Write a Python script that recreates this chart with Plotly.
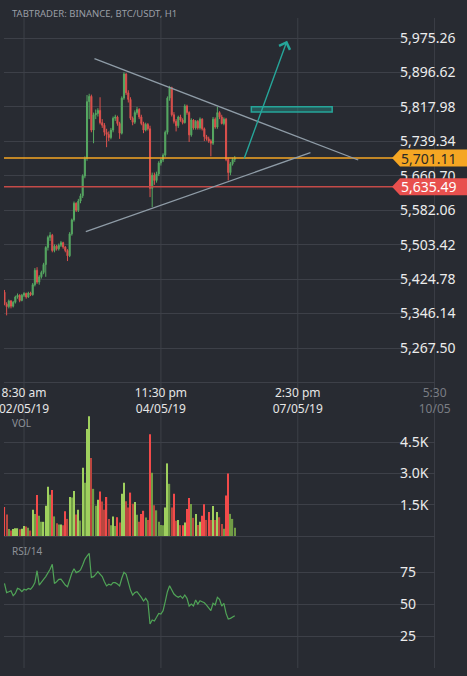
import pandas as pd
import plotly.graph_objects as go

W, H = 467, 676

# ---------------- data ----------------
candle_start = "2019-05-01 23:30"   # hourly candles (H1)
n_candles = 107
times = pd.date_range(candle_start, periods=n_candles, freq="h")

opens = [5395, 5368, 5362, 5375, 5363, 5372, 5384, 5388, 5376, 5388,
         5392, 5384, 5393, 5389, 5412, 5445, 5418, 5430, 5440, 5458,
         5497, 5520, 5525, 5490, 5500, 5494, 5502, 5508, 5498, 5490,
         5478, 5528, 5560, 5598, 5582, 5603, 5615, 5660, 5700, 5830,
         5842, 5765, 5800, 5803, 5810, 5782, 5776, 5760, 5755, 5748,
         5765, 5792, 5795, 5780, 5758, 5838, 5893, 5850, 5835, 5792,
         5783, 5805, 5812, 5795, 5780, 5765, 5778, 5768, 5632, 5662,
         5650, 5665, 5690, 5697, 5708, 5760, 5838, 5862, 5800, 5785,
         5775, 5795, 5788, 5782, 5820, 5805, 5754, 5788, 5770, 5785,
         5770, 5790, 5768, 5750, 5745, 5740, 5735, 5790, 5772, 5805,
         5795, 5780, 5790, 5698, 5668, 5688, 5698]
highs = [5400, 5372, 5378, 5377, 5375, 5387, 5392, 5390, 5391, 5395,
         5394, 5396, 5396, 5416, 5450, 5452, 5434, 5444, 5462, 5500,
         5524, 5532, 5528, 5504, 5503, 5506, 5512, 5510, 5500, 5493,
         5532, 5563, 5602, 5600, 5608, 5620, 5664, 5705, 5845, 5848,
         5846, 5805, 5812, 5815, 5840, 5790, 5781, 5768, 5762, 5770,
         5796, 5800, 5798, 5784, 5842, 5897, 5895, 5856, 5840, 5796,
         5810, 5818, 5815, 5800, 5784, 5782, 5781, 5775, 5668, 5668,
         5670, 5694, 5700, 5712, 5764, 5842, 5866, 5864, 5806, 5790,
         5798, 5800, 5792, 5824, 5823, 5808, 5792, 5790, 5788, 5788,
         5794, 5792, 5771, 5754, 5750, 5744, 5795, 5794, 5818, 5808,
         5800, 5794, 5793, 5702, 5692, 5702, 5706]
lows = [5365, 5342, 5358, 5358, 5360, 5369, 5380, 5372, 5374, 5384,
        5380, 5382, 5386, 5387, 5408, 5414, 5412, 5426, 5436, 5430,
        5490, 5512, 5486, 5486, 5490, 5490, 5498, 5494, 5486, 5466,
        5475, 5524, 5556, 5578, 5578, 5598, 5610, 5655, 5695, 5790,
        5760, 5735, 5790, 5796, 5778, 5770, 5752, 5726, 5740, 5744,
        5760, 5786, 5775, 5745, 5755, 5834, 5845, 5828, 5788, 5776,
        5779, 5800, 5790, 5776, 5758, 5762, 5764, 5612, 5589, 5640,
        5645, 5660, 5684, 5692, 5704, 5755, 5832, 5796, 5780, 5762,
        5770, 5784, 5778, 5780, 5800, 5738, 5750, 5766, 5766, 5766,
        5766, 5764, 5740, 5741, 5736, 5705, 5731, 5768, 5768, 5790,
        5778, 5776, 5694, 5650, 5662, 5684, 5692]
closes = [5368, 5362, 5375, 5363, 5372, 5384, 5388, 5376, 5388, 5392,
          5384, 5393, 5389, 5412, 5445, 5418, 5430, 5440, 5458, 5497,
          5520, 5525, 5490, 5500, 5494, 5502, 5508, 5498, 5490, 5478,
          5528, 5560, 5598, 5582, 5603, 5615, 5660, 5700, 5830, 5842,
          5765, 5800, 5803, 5810, 5782, 5776, 5760, 5755, 5748, 5765,
          5792, 5795, 5780, 5758, 5838, 5893, 5850, 5835, 5792, 5783,
          5805, 5812, 5795, 5780, 5765, 5778, 5768, 5632, 5662, 5650,
          5665, 5690, 5697, 5708, 5760, 5838, 5862, 5800, 5785, 5775,
          5795, 5788, 5782, 5820, 5805, 5754, 5788, 5770, 5785, 5770,
          5790, 5768, 5750, 5745, 5740, 5735, 5790, 5772, 5805, 5795,
          5780, 5790, 5698, 5668, 5688, 5698, 5701.11]

volumes = [1390, 1030, 340, 260, 340, 370, 370, 320, 350, 480,
           450, 400, 260, 1260, 1050, 1970, 970, 680, 680, 1450,
           2360, 1980, 2210, 940, 610, 550, 550, 520, 1190, 820,
           1870, 1840, 2160, 1030, 1260, 740, 3270, 2550, 5130, 5740,
           3740, 2260, 1450, 1740, 2130, 1650, 1260, 1870, 810, 520,
           940, 480, 900, 650, 2020, 2550, 1660, 1370, 2080, 1550,
           1630, 1020, 680, 1060, 1210, 890, 770, 4870, 3030, 1470,
           1230, 680, 530, 520, 1370, 3480, 2500, 1370, 2030, 730,
           770, 520, 520, 650, 1290, 1820, 1530, 870, 1050, 530,
           680, 970, 1520, 770, 1150, 770, 1440, 770, 1150, 900,
           580, 350, 1940, 3000, 1060, 820, 390]

rsi = [66.1, 58.9, 59.6, 60.4, 56.5, 58.3, 62.2, 61.5, 59.6, 61.5,
       60.9, 62.2, 61.5, 63.5, 66.8, 76.0, 64.8, 67.4, 69.3, 71.4,
       74.0, 77.1, 81.0, 66.1, 67.4, 69.3, 69.5, 66.7, 64.8, 63.5,
       69.3, 74.0, 77.6, 74.5, 75.3, 76.6, 80.5, 84.9, 87.5, 89.6,
       70.8, 71.4, 73.2, 75.3, 73.4, 71.4, 67.4, 64.1, 65.4, 64.8,
       66.7, 66.7, 65.6, 64.1, 70.1, 74.7, 73.2, 66.1, 60.9, 57.0,
       58.9, 59.6, 57.8, 55.2, 52.3, 54.4, 51.8, 34.4, 37.5, 36.7,
       39.6, 42.7, 42.2, 44.8, 51.8, 59.6, 64.3, 60.9, 57.8, 56.3,
       55.2, 56.3, 54.4, 57.0, 54.4, 48.4, 50.0, 48.4, 53.1, 50.0,
       52.6, 51.8, 51.0, 49.2, 46.6, 44.8, 50.5, 49.2, 55.2, 53.6,
       48.4, 50.5, 42.7, 38.3, 38.8, 40.1, 40.9]

x_tick_times = ["2019-05-02 08:30", "2019-05-04 23:30", "2019-05-07 14:30", "2019-05-10 05:30"]
x_tick_text = ["8:30 am<br>02/05/19", "11:30 pm<br>04/05/19", "2:30 pm<br>07/05/19",
               "<span style='color:#7a7d84'>5:30</span><br><span style='color:#7a7d84'>10/05</span>"]

price_ticks = [5267.50, 5346.14, 5424.78, 5503.42, 5582.06, 5660.70, 5739.34, 5817.98, 5896.62, 5975.26]
vol_ticks = [0, 1500, 3000, 4500]
vol_tick_text = ["", "1.5K", "3.0K", "4.5K"]
rsi_ticks = [25, 50, 75]

last_price = 5701.11
alert_price = 5635.49

# drawings: (time, price)
down_trend = [("2019-05-03 16:55", 5928.0), ("2019-05-08 18:20", 5696.7)]
up_trend = [("2019-05-03 12:56", 5533.0), ("2019-05-07 20:20", 5713.4)]
arrow_line = [("2019-05-06 13:35", 5696.7), ("2019-05-07 09:36", 5969.1)]
target_box = [("2019-05-06 17:08", 5806.3), ("2019-05-08 06:20", 5818.4)]

# ---------------- styling ----------------
BG = "#282b32"
GRID = "#3d4048"
FONT = "Noto Sans"
GREEN = "#56a862"
RED = "#dc514d"
ORANGE = "#f5a623"
TEAL = "#26a69a"
TREND = "#8f9ca7"


def fx(px):
    return px / W


def fy(py):
    return 1 - py / H


x_dom = [fx(4), fx(435)]
x_range = ["2019-05-01 23:17", "2019-05-10 05:40"]

vol_colors = []
for i in range(n_candles):
    up = closes[i] >= opens[i]
    rising = i == 0 or volumes[i] >= volumes[i - 1]
    if up:
        vol_colors.append("#9fd05e" if rising else "#719c46")
    else:
        vol_colors.append("#f24a4a" if rising else "#b9463f")

fig = go.Figure()
fig.add_trace(go.Candlestick(
    x=times, open=opens, high=highs, low=lows, close=closes,
    xaxis="x", yaxis="y",
    increasing=dict(line=dict(color=GREEN, width=1), fillcolor=GREEN),
    decreasing=dict(line=dict(color=RED, width=1), fillcolor=RED),
    whiskerwidth=0, showlegend=False, hoverinfo="skip"))
fig.add_trace(go.Bar(
    x=times, y=volumes, xaxis="x2", yaxis="y2",
    marker=dict(color=vol_colors, line=dict(width=0)),
    width=0.55 * 3600 * 1000, showlegend=False, hoverinfo="skip"))
fig.add_trace(go.Scatter(
    x=times, y=rsi, xaxis="x3", yaxis="y3", mode="lines",
    line=dict(color="#50a457", width=1.2), showlegend=False, hoverinfo="skip"))

common_y = dict(side="right", anchor="free", showgrid=True, gridcolor=GRID, gridwidth=1,
                zeroline=False, showline=False, ticks="", tickmode="array",
                tickfont=dict(family=FONT, size=14, color="#ececec"))

fig.update_layout(
    width=W, height=H,
    margin=dict(l=0, r=0, t=0, b=0),
    paper_bgcolor=BG, plot_bgcolor="rgba(0,0,0,0)",
    template="none",
    font=dict(family=FONT),
    showlegend=False,
    xaxis=dict(domain=x_dom, range=x_range, type="date", anchor="y",
               rangeslider=dict(visible=False), showgrid=False, zeroline=False,
               showline=True, linecolor=GRID, linewidth=1, ticks="",
               tickmode="array", tickvals=x_tick_times, ticktext=x_tick_text,
               ticklabeloverflow="allow",
               tickfont=dict(family=FONT, size=12, color="#e6e6e6")),
    xaxis2=dict(domain=x_dom, matches="x", type="date", anchor="y2", showgrid=False,
                zeroline=False, showline=False, showticklabels=False, ticks=""),
    xaxis3=dict(domain=x_dom, matches="x", type="date", anchor="y3", showgrid=False,
                zeroline=False, showline=False, showticklabels=False, ticks=""),
    yaxis=dict(domain=[fy(382), fy(20)], range=[5189.87, 6016.36], position=fx(399),
               tickvals=price_ticks, ticktext=[f"{v:,.2f}" for v in price_ticks], **common_y),
    yaxis2=dict(domain=[fy(545), fy(413)], range=[-431, 5894], position=fx(399),
                tickvals=vol_ticks, ticktext=vol_tick_text, **common_y),
    yaxis3=dict(domain=[fy(668), fy(545)], range=[0, 96.1], position=fx(399),
                tickvals=rsi_ticks, ticktext=[str(v) for v in rsi_ticks], **common_y),
)

shapes = []
# vertical grid lines through all panels
for t in x_tick_times:
    shapes.append(dict(type="line", xref="x", yref="paper", x0=t, x1=t,
                       y0=fy(668), y1=fy(18), line=dict(color=GRID, width=1), layer="below"))
# price level lines
shapes.append(dict(type="line", xref="paper", yref="y", x0=fx(4), x1=fx(393),
                   y0=last_price, y1=last_price, line=dict(color=ORANGE, width=1.5)))
shapes.append(dict(type="line", xref="paper", yref="y", x0=fx(4), x1=fx(393),
                   y0=alert_price, y1=alert_price, line=dict(color="#c44b48", width=1.5)))
# trend lines
for seg in (down_trend, up_trend):
    shapes.append(dict(type="line", xref="x", yref="y", x0=seg[0][0], y0=seg[0][1],
                       x1=seg[1][0], y1=seg[1][1], line=dict(color=TREND, width=1.3)))
# target rectangle
shapes.append(dict(type="rect", xref="x", yref="y", x0=target_box[0][0], y0=target_box[0][1],
                   x1=target_box[1][0], y1=target_box[1][1],
                   line=dict(color=TEAL, width=1.5), fillcolor="rgba(38,166,154,0.35)"))
# price tags (pointer boxes)
for price, col in ((last_price, ORANGE), (alert_price, "#e8504e")):
    shapes.append(dict(type="path", xref="paper", yref="y", xsizemode="pixel", ysizemode="pixel",
                       xanchor=fx(392), yanchor=price,
                       path="M0,0 L8,8.5 L80,8.5 L80,-8.5 L8,-8.5 Z",
                       fillcolor=col, line=dict(width=0), layer="above"))
fig.update_layout(shapes=shapes)

annotations = [
    dict(xref="paper", yref="paper", x=fx(10), y=fy(14), xanchor="left", yanchor="middle",
         text="TABTRADER: BINANCE, BTC/USDT, H1", showarrow=False,
         font=dict(family=FONT, size=9.5, color="#9a9ea6")),
    dict(xref="paper", yref="paper", x=fx(10), y=fy(423), xanchor="left", yanchor="middle",
         text="VOL", showarrow=False, font=dict(family=FONT, size=10, color="#8d9198")),
    dict(xref="paper", yref="paper", x=fx(10), y=fy(551), xanchor="left", yanchor="middle",
         text="RSI/14", showarrow=False, font=dict(family=FONT, size=10, color="#8d9198")),
    dict(xref="paper", yref="y", x=fx(399), y=last_price, xanchor="left", yanchor="middle",
         text=f"{last_price:,.2f}", showarrow=False,
         font=dict(family=FONT, size=14, color="#2b2a26")),
    dict(xref="paper", yref="y", x=fx(399), y=alert_price, xanchor="left", yanchor="middle",
         text=f"{alert_price:,.2f}", showarrow=False,
         font=dict(family=FONT, size=14, color="#ffffff")),
    dict(xref="x", yref="y", axref="x", ayref="y",
         x=arrow_line[1][0], y=arrow_line[1][1], ax=arrow_line[0][0], ay=arrow_line[0][1],
         text="", showarrow=True, arrowhead=4, arrowsize=1.6, arrowwidth=1.4,
         arrowcolor=TEAL, standoff=0),
]
fig.update_layout(annotations=annotations)

fig.write_html("out.html", config={"displayModeBar": False},
               post_script="document.body.style.margin='0px';document.body.style.overflow='hidden';")
